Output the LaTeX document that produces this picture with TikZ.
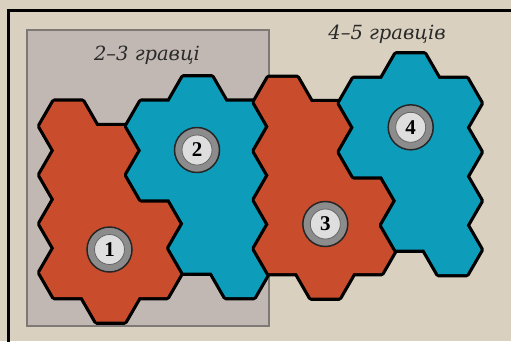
\documentclass[tikz,border=0pt]{standalone}
\usepackage{fontspec}
\setmainfont{Liberation Serif}
\newfontfamily\lblfont{DejaVu Serif}
\definecolor{parch}{HTML}{D9D0BF}
\definecolor{boxfill}{HTML}{C2B8B3}
\definecolor{boxline}{HTML}{7E7975}
\definecolor{hexred}{HTML}{C94D2C}
\definecolor{hexblue}{HTML}{0E9CBB}
\definecolor{ringgrey}{HTML}{8C8C8C}
\definecolor{coregrey}{HTML}{DEDEDE}
\definecolor{labelgrey}{HTML}{2A2A2A}
\newcommand\hexes[3]{\foreach \qq/\rr in #1 {({68.3+42.3*\qq+#2},{126.1+48.85*(\rr+\qq/2)+#3}) ++(28.2,0) -- ++(-14.1,24.425) -- ++(-28.2,0) -- ++(-14.1,-24.425) -- ++(14.1,-24.425) -- ++(28.2,0) -- cycle}}
\def\RegA{0/0,0/1,0/2,0/3,1/0,1/1,1/2,1/3,2/1,2/2}
\def\RegB{2/-1,2/0,3/-2,3/-1,3/0,3/1,4/-2,4/-1,4/0,4/1}
\def\RegC{5/-3,5/-2,5/-1,5/0,6/-3,6/-2,6/-1,6/0,7/-2,7/-1}
\def\RegD{7/-4,7/-3,8/-5,8/-4,8/-3,8/-2,9/-5,9/-4,9/-3,9/-2}
\begin{document}
\begin{tikzpicture}[x=1pt,y=-1pt,
  outl/.style={draw=black,line width=6.5pt,line join=round},
  frameline/.style={draw=black,line width=2.6pt},
  greybox/.style={fill=boxfill,draw=boxline,line width=2pt},
  lbl/.style={font=\lblfont\fontsize{19.5}{19.5}\selectfont\itshape,text=labelgrey,anchor=base,inner sep=0pt},
  tokout/.style={circle,minimum size=45pt,inner sep=0pt,fill=ringgrey,draw=black!85,line width=1.5pt},
  tokin/.style={circle,minimum size=30pt,inner sep=0pt,fill=coregrey,draw=black!60,line width=0.8pt,font=\fontsize{21}{21}\selectfont\bfseries,text=black}]
\useasboundingbox (0,0) rectangle (511,341);
\clip (0,0) rectangle (511,341);
\fill[parch] (0,0) rectangle (511,341);
\draw[frameline] (8.5,10.5) rectangle (540,370);
\draw[greybox] (27,30) rectangle (268.5,326);
\node[lbl] (l23) at (147,60) {2–3 гравці};
\node[lbl] (l45) at (387,39) {4–5 гравців};
% region 1 (red)
\draw[outl] \hexes{\RegA}{0}{0};
\fill[hexred] \hexes{\RegA}{0}{0};
% region 2 (blue)
\draw[outl] \hexes{\RegB}{2.3}{0};
\fill[hexblue] \hexes{\RegB}{2.3}{0};
% region 3 (red)
\draw[outl] \hexes{\RegC}{3}{0.5};
\fill[hexred] \hexes{\RegC}{3}{0.5};
% region 4 (blue)
\draw[outl] \hexes{\RegD}{3.5}{1.5};
\fill[hexblue] \hexes{\RegD}{3.5}{1.5};
% tokens
\node[tokout] (t1o) at (109.5,249.5) {};
\node[tokin] (t1) at (t1o) {1};
\node[tokout] (t2o) at (197,150) {};
\node[tokin] (t2) at (t2o) {2};
\node[tokout] (t3o) at (325.3,224) {};
\node[tokin] (t3) at (t3o) {3};
\node[tokout] (t4o) at (410.7,127.3) {};
\node[tokin] (t4) at (t4o) {4};
\end{tikzpicture}
\end{document}
